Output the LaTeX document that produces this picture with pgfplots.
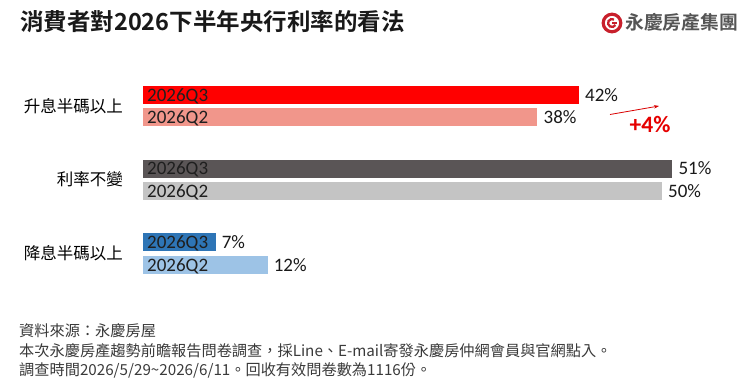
\documentclass[border=0pt]{standalone}
\usepackage{pgfplots}
\pgfplotsset{compat=1.18}
\usepackage{fontspec}
\setmainfont{Noto Sans CJK TC}[BoldFont={Noto Sans CJK TC Bold}]
\newfontfamily\carl{Carlito}
\usetikzlibrary{arrows.meta}
\definecolor{cRedA}{HTML}{FF0000}
\definecolor{cRedB}{HTML}{F1968B}
\definecolor{cGrayA}{HTML}{5A5556}
\definecolor{cGrayB}{HTML}{C4C4C4}
\definecolor{cBlueA}{HTML}{2E75B6}
\definecolor{cBlueB}{HTML}{9DC3E6}
\definecolor{logoRed}{HTML}{C8202C}
\definecolor{logoGray}{HTML}{555555}
\definecolor{foot}{HTML}{3A3A3A}
\begin{document}
\begin{tikzpicture}
\path[use as bounding box] (0,0) rectangle (750pt,-390pt);
% title
\node[anchor=base west, inner sep=0pt, font=\fontsize{23.5}{25}\selectfont\bfseries, text=black!90] at (20pt,-30.8pt) {消費者對2026下半年央行利率的看法};
% logo
\draw[logoRed, line width=3.2pt] (612pt,-23pt) circle (8.8pt);
\draw[logoRed, line width=2.3pt] (612pt,-23pt) ++(60:4pt) arc (60:330:4pt);
\draw[logoRed, line width=2.3pt] (612pt,-23pt) -- ++(4.8pt,0pt);
\node[anchor=base west, inner sep=0pt, font=\fontsize{18.8}{20}\selectfont\bfseries, text=logoGray] at (625pt,-30pt) {永慶房產集團};
% category labels
\node[anchor=base east, inner sep=0pt, font=\fontsize{16.5}{18}\selectfont] at (123pt,-112.3pt) {升息半碼以上};
\node[anchor=base east, inner sep=0pt, font=\fontsize{16.5}{18}\selectfont] at (123pt,-186pt) {利率不變};
\node[anchor=base east, inner sep=0pt, font=\fontsize{16.5}{18}\selectfont] at (123pt,-259.5pt) {降息半碼以上};
\begin{axis}[
  at={(143pt,0pt)}, anchor=north west,
  scale only axis, width=622.8pt, height=390pt,
  xmin=0, xmax=60, ymin=0, ymax=390, y dir=reverse,
  hide axis, clip=false,
  point meta=explicit symbolic,
  nodes near coords,
  every node near coord/.append style={font=\carl\fontsize{19}{20}\selectfont, text=black!90, inner sep=0pt, xshift=6pt, anchor=west},
]
\addplot[xbar, bar shift=0pt, bar width=18, fill=cRedA, draw=none] coordinates {(42,95) [42\%]};
\addplot[xbar, bar shift=0pt, bar width=18, fill=cRedB, draw=none] coordinates {(38,117) [38\%]};
\addplot[xbar, bar shift=0pt, bar width=18, fill=cGrayA, draw=none] coordinates {(51,168.5) [51\%]};
\addplot[xbar, bar shift=0pt, bar width=18, fill=cGrayB, draw=none] coordinates {(50,191) [50\%]};
\addplot[xbar, bar shift=0pt, bar width=18, fill=cBlueA, draw=none] coordinates {(7,242) [7\%]};
\addplot[xbar, bar shift=0pt, bar width=18, fill=cBlueB, draw=none] coordinates {(12,265) [12\%]};
\foreach \yy/\lab in {95/2026Q3,117/2026Q2,168.5/2026Q3,191/2026Q2,242/2026Q3,265/2026Q2}{
  \edef\temp{\noexpand\node[anchor=base west, inner sep=0pt, font=\noexpand\carl\noexpand\fontsize{19}{20}\noexpand\selectfont, text=black!88] at (axis cs:0,\yy) [xshift=4pt, yshift=-6pt] {\lab};}
  \temp
}
\end{axis}
% change arrow
\draw[-{Stealth[length=5pt,width=3.5pt]}, cRedA!85!black, line width=0.8pt] (610pt,-114.5pt) -- (659pt,-106pt);
\node[anchor=base, inner sep=0pt, font=\carl\bfseries\fontsize{23.5}{24}\selectfont, text=cRedA!90!black] at (650pt,-132.5pt) {+4\%};
% footer
\node[anchor=base west, inner sep=0pt, font=\fontsize{15.2}{16}\selectfont, text=foot] at (19pt,-336.5pt) {資料來源：永慶房屋};
\node[anchor=base west, inner sep=0pt, font=\fontsize{15.2}{16}\selectfont, text=foot] at (19pt,-356.5pt) {本次永慶房產趨勢前瞻報告問卷調查，採Line、E-mail寄發永慶房仲網會員與官網點入。};
\node[anchor=base west, inner sep=0pt, font=\fontsize{15.2}{16}\selectfont, text=foot] at (19pt,-375.5pt) {調查時間2026/5/29\textasciitilde2026/6/11。回收有效問卷數為1116份。};
\end{tikzpicture}
\end{document}
